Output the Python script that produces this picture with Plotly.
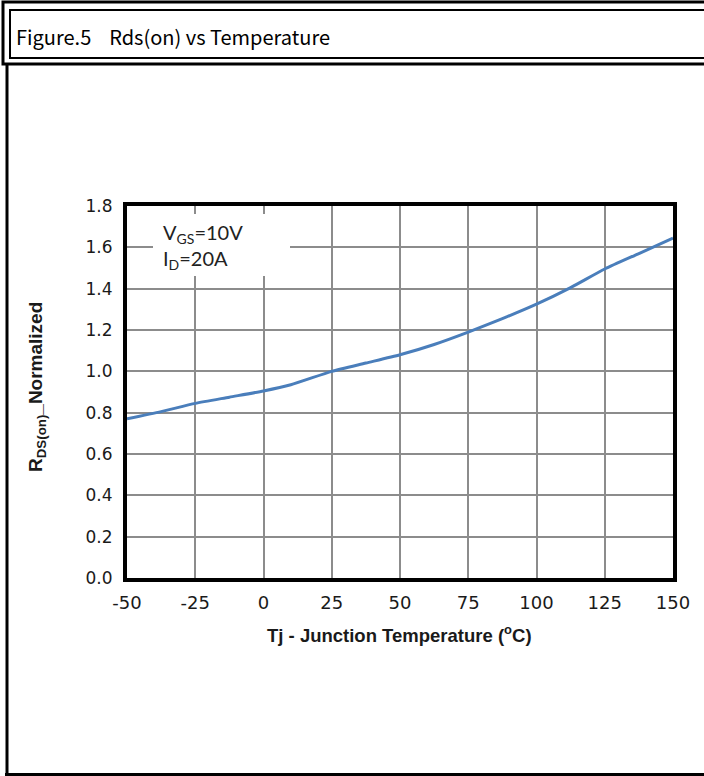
import plotly.graph_objects as go

# Normalized on-resistance vs junction temperature
temp_c = [-50, -37.5, -25, -12.5, 0, 10, 25, 37.5, 50, 62.5, 75, 87.5, 100, 112.5, 125, 137.5, 150]
rds_norm = [0.77, 0.805, 0.845, 0.875, 0.905, 0.935, 1.0, 1.04, 1.08, 1.13, 1.19, 1.255, 1.325,
            1.405, 1.495, 1.57, 1.645]

x_ticks = [-50, -25, 0, 25, 50, 75, 100, 125, 150]
y_ticks = [0.0, 0.2, 0.4, 0.6, 0.8, 1.0, 1.2, 1.4, 1.6, 1.8]

W, H = 704, 776
L, R, T, B = 127, 673, 206, 578  # plot-area edges in pixels


def px(x):
    return (x - L) / (R - L)


def py(y):
    return (B - y) / (B - T)


fig = go.Figure()
fig.add_trace(go.Scatter(
    x=temp_c, y=rds_norm, mode="lines",
    line=dict(color="#4a7ebb", width=3, shape="spline", smoothing=0.6),
    hoverinfo="skip", showlegend=False,
))

grid = dict(showgrid=True, gridcolor="#8c8c8c", gridwidth=2, zeroline=False,
            showline=True, linecolor="black", linewidth=4, mirror=True, ticks="")

fig.update_xaxes(range=[-50, 150], tickvals=x_ticks, ticktext=[str(v) for v in x_ticks],
                 tickfont=dict(family="DejaVu Sans", size=18, color="#1a1a1a"),
                 ticklabelstandoff=5, **grid)
fig.update_yaxes(range=[0, 1.8], tickvals=y_ticks, tickformat=".1f",
                 tickfont=dict(family="DejaVu Sans", size=17, color="#1a1a1a"),
                 ticklabelstandoff=7, **grid)

shapes = []
# figure caption box (double frame)
shapes.append(dict(type="rect", xref="paper", yref="paper", x0=px(3), x1=px(730), y0=py(2), y1=py(64),
                   line=dict(color="black", width=3), layer="above"))
shapes.append(dict(type="rect", xref="paper", yref="paper", x0=px(10), x1=px(730), y0=py(10), y1=py(58),
                   line=dict(color="black", width=2), layer="above"))
# panel frame below caption
shapes.append(dict(type="line", xref="paper", yref="paper", x0=px(7), x1=px(7), y0=py(64), y1=py(776),
                   line=dict(color="black", width=3), layer="above"))
shapes.append(dict(type="line", xref="paper", yref="paper", x0=px(5), x1=px(730), y0=py(774.5), y1=py(774.5),
                   line=dict(color="black", width=3), layer="above"))
# white backing behind the test-condition label
shapes.append(dict(type="rect", xref="paper", yref="paper", x0=px(153), x1=px(290), y0=py(214), y1=py(276),
                   line=dict(width=0), fillcolor="white", layer="above"))

annotations = [
    dict(xref="paper", yref="paper", x=px(14), y=py(36), xanchor="left", yanchor="middle",
         text="Figure.5    Rds(on) vs Temperature", showarrow=False,
         font=dict(family="Noto Sans CJK SC", size=20, color="black")),
    dict(xref="paper", yref="paper", x=px(161), y=py(246), xanchor="left", yanchor="middle",
         align="left", text="V<sub>GS</sub>=10V<br>I<sub>D</sub>=20A", showarrow=False,
         font=dict(family="Lato", size=20, color="#222222")),
    dict(xref="paper", yref="paper", x=px(399), y=py(634), xanchor="center", yanchor="middle",
         text="<b>Tj - Junction Temperature (<sup>o</sup>C)</b>", showarrow=False,
         font=dict(family="Liberation Sans", size=18.5, color="#1a1a1a")),
    dict(xref="paper", yref="paper", x=px(37), y=py(387), xanchor="center", yanchor="middle",
         text="<b>R<sub>DS(on)</sub>_Normalized</b>", textangle=-90, showarrow=False,
         font=dict(family="Liberation Sans", size=19, color="#1a1a1a")),
]

fig.update_layout(
    width=W, height=H, autosize=False,
    margin=dict(l=L, r=W - R, t=T, b=H - B, pad=0),
    paper_bgcolor="white", plot_bgcolor="white",
    shapes=shapes, annotations=annotations, showlegend=False,
)

fig.write_html("out.html")
